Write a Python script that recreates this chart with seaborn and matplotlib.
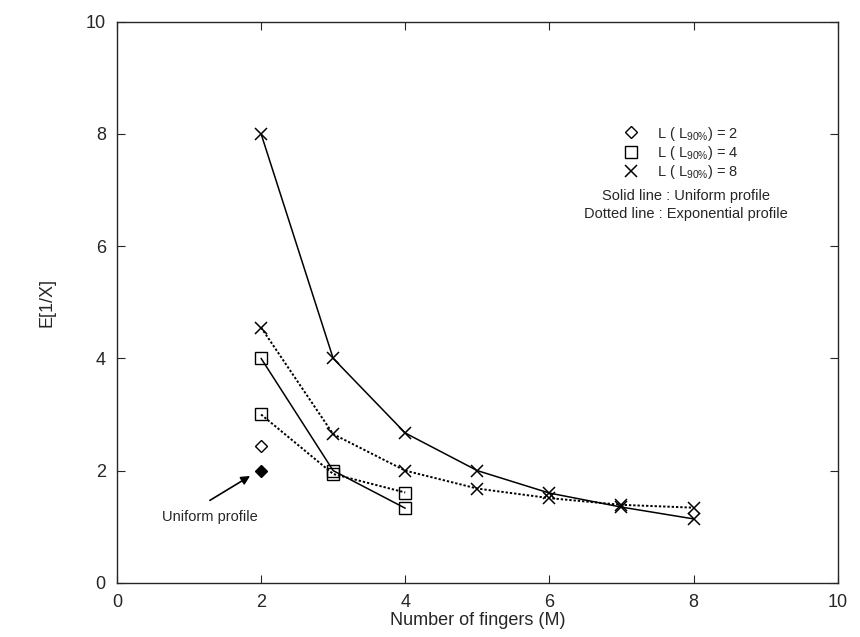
import matplotlib
matplotlib.use("Agg")
import matplotlib.pyplot as plt
from matplotlib.lines import Line2D
import seaborn as sns
import pandas as pd

# Data
M_L8 = [2, 3, 4, 5, 6, 7, 8]
uni_L8 = [8.0, 4.0, 2.67, 2.0, 1.6, 1.35, 1.14]
exp_L8 = [4.55, 2.65, 2.0, 1.68, 1.51, 1.39, 1.34]
M_L4 = [2, 3, 4]
uni_L4 = [4.0, 2.0, 1.33]
exp_L4 = [3.0, 1.94, 1.61]
M_L2 = [2]
uni_L2 = [2.0]
exp_L2 = [2.44]

legend_labels = ["L ( L$_{90\\%}$) = 2", "L ( L$_{90\\%}$) = 4", "L ( L$_{90\\%}$) = 8"]
note_lines = ["Solid line : Uniform profile", "Dotted line : Exponential profile"]
annot_text = "Uniform profile"
xlabel = "Number of fingers (M)"
ylabel = "E[1/X]"
ticks = [0, 2, 4, 6, 8, 10]

sns.set_style("ticks")
plt.rcParams['font.family'] = ['Liberation Sans', 'DejaVu Sans']
plt.rcParams['mathtext.fontset'] = 'custom'
plt.rcParams['mathtext.rm'] = 'Liberation Sans'
plt.rcParams['mathtext.it'] = 'Liberation Sans'
plt.rcParams['mathtext.default'] = 'regular'

fig = plt.figure(figsize=(8.6, 6.37), dpi=100)
ax = fig.add_axes([0.136, 0.085, 0.838, 0.881])

def draw(x, y, ls, marker, ms, mfc='none', mew=1.0, lw=1.1):
    df = pd.DataFrame({"x": x, "y": y})
    sns.lineplot(data=df, x="x", y="y", ax=ax, color="black", linestyle=ls,
                 linewidth=lw, marker=marker, markersize=ms,
                 markerfacecolor=mfc, markeredgecolor="black", markeredgewidth=mew)

dot = (0, (1.2, 1.0))
draw(M_L8, uni_L8, '-', 'x', 9, mew=1.1)
draw(M_L8, exp_L8, dot, 'x', 9, mew=1.1, lw=1.4)
draw(M_L4, uni_L4, '-', 's', 8)
draw(M_L4, exp_L4, dot, 's', 8, lw=1.4)
draw(M_L2, uni_L2, '-', 'D', 6, mfc='black')
draw(M_L2, exp_L2, '-', 'D', 6)

ax.set_xlim(0, 10)
ax.set_ylim(0, 10)
ax.set_xticks(ticks)
ax.set_yticks(ticks)
ax.tick_params(direction='in', top=True, right=True, length=6, labelsize=13, pad=8)
for s in ax.spines.values():
    s.set_visible(True)
    s.set_linewidth(1.0)
ax.set_xlabel(xlabel, fontsize=13, labelpad=1)
ax.set_ylabel(ylabel, fontsize=13, labelpad=22)

handles = [
    Line2D([], [], linestyle='none', marker='D', markersize=6, markerfacecolor='none', markeredgecolor='black'),
    Line2D([], [], linestyle='none', marker='s', markersize=8, markerfacecolor='none', markeredgecolor='black'),
    Line2D([], [], linestyle='none', marker='x', markersize=8, markeredgecolor='black', markeredgewidth=1.1),
]
ax.legend(handles, legend_labels, loc='upper left', bbox_to_anchor=(0.68, 0.84),
          frameon=False, fontsize=10.5, handlelength=1.5, handletextpad=1.0,
          labelspacing=0.1)

ax.text(7.9, 6.9, note_lines[0], ha='center', va='center', fontsize=10.5)
ax.text(7.9, 6.58, note_lines[1], ha='center', va='center', fontsize=10.5)

ax.text(1.29, 1.18, annot_text, ha='center', va='center', fontsize=10.5)
ax.annotate("", xy=(1.88, 1.93), xytext=(1.29, 1.47),
            arrowprops=dict(arrowstyle='-|>', color='black', lw=1.2,
                            shrinkA=0, shrinkB=2, mutation_scale=13))

fig.savefig("out.png", dpi=100)
